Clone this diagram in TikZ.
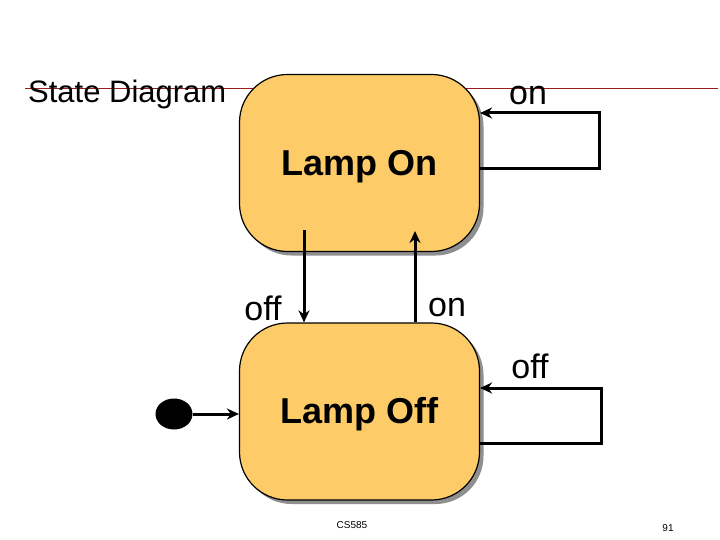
\documentclass[tikz,border=0pt]{standalone}
\usepackage{fontspec}
\setmainfont{Liberation Sans}
\usetikzlibrary{shadows,arrows.meta,shapes.geometric}
\definecolor{stfill}{RGB}{253,204,104}
\definecolor{rule}{RGB}{150,30,30}
\tikzset{
  statebox/.style={draw=black, line width=1.2pt, fill=stfill, rounded corners=48pt,
    minimum width=240pt, minimum height=177pt, inner sep=0pt,
    drop shadow={shadow xshift=4pt, shadow yshift=-4pt, fill=black!55, opacity=0.8}},
  statetext/.style={font=\fontsize{36}{40}\selectfont\bfseries},
  lbl/.style={font=\fontsize{34}{38}\selectfont, anchor=base, inner sep=0pt},
  conn/.style={line width=3pt, -{Stealth[length=12pt,width=11pt]}},
  foot/.style={font=\fontsize{10}{12}\selectfont, inner sep=0pt}
}
\begin{document}
\begin{tikzpicture}[x=1pt,y=-1pt]
\useasboundingbox (0,0) rectangle (720,540);
\fill[white] (0,0) rectangle (720,540);
% title rule
\draw[rule, line width=0.9pt] (25,88) -- (718,88);
\node[font=\fontsize{31}{36}\selectfont, anchor=base west, inner sep=0pt] (title) at (28,103) {State Diagram};
% states
\node[statebox] (on) at (359.5,163) {};
\node[statebox] (off) at (359.5,411.5) {};
\node[statetext] (ontext) at (359.5,166.5) {Lamp On};
\node[statetext] (offtext) at (359.5,414.5) {Lamp Off};
% initial
\node[fill=black, ellipse, minimum width=37pt, minimum height=31pt, inner sep=0pt] (init) at (174,414) {};
\draw[conn] (init.east) -- (off.west |- init.east);
% self loop on
\draw[conn, -] (on.east |- 0,169) -- (599,169) -- (599,113);
\draw[conn] (600.5,113) -- (on.east |- 0,113);
\node[lbl] (lon1) at (528,105) {on};
% self loop off
\draw[conn, -] (off.east |- 0,443) -- (601,443) -- (601,388);
\draw[conn] (602.5,388) -- (off.east |- 0,388);
\node[lbl] (loff2) at (530,378) {off};
% vertical transitions
\draw[conn] (304,230) -- (off.north -| 304,0);
\node[lbl] (loff1) at (263,320) {off};
\draw[conn] (off.north -| 415,0) -- (415,231);
\node[lbl] (lon2) at (447,316) {on};
% footer
\node[foot] (cs) at (352,525) {CS585};
\node[foot] (pg) at (668,528) {91};
\end{tikzpicture}
\end{document}
